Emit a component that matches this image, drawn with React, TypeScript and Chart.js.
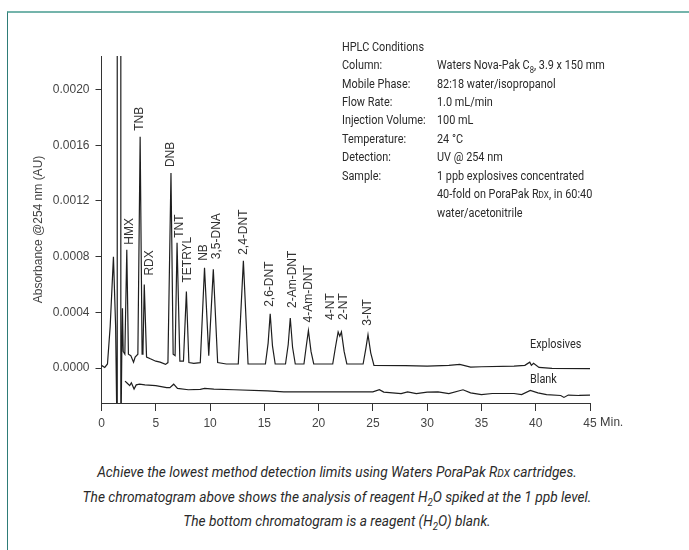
import React, { useEffect, useRef } from "react";
import { Chart, registerables } from "chart.js";

Chart.register(...registerables);

// ---------- data ----------
const xTickValues = [0, 5, 10, 15, 20, 25, 30, 35, 40, 45];
const yTickValues = [0, 0.0004, 0.0008, 0.0012, 0.0016, 0.002];

// [retention time (min), absorbance (AU)]
const explosivesTrace: [number, number][] = [
  [0, 0.00002], [0.3, 0.000005], [0.55, 0.00003], [0.8, 0.0003], [1.1, 0.0008],
  [1.3, 0.0003], [1.45, -0.0006], [1.45, 0.003], [1.78, 0.003], [1.78, -0.0006],
  [1.87, 0.00012], [1.93, 0.00043], [2.0, 0.00012], [2.15, 0.0001], [2.33, 0.00085],
  [2.48, 0.0001], [2.7, 0.00009], [2.95, 0.000043], [3.1, 0.00008], [3.35, 0.0001],
  [3.56, 0.00166], [3.74, 0.0001], [3.82, 0.00011], [3.94, 0.0006], [4.15, 0.00008],
  [4.5, 0.000067], [5.0, 0.00005], [5.4, 0.000043], [5.9, 0.000027], [6.12, 0.00004],
  [6.4, 0.0014], [6.6, 0.0001], [6.78, 0.00009], [6.96, 0.0009], [7.22, 0.00005],
  [7.55, 0.00005], [7.82, 0.00055], [8.05, 0.00004], [8.5, 0.000035], [9.1, 0.00004],
  [9.49, 0.00072], [9.88, 0.00009], [10.3, 0.00071], [10.7, 0.00004], [11.5, 0.00003],
  [12.6, 0.00003], [13.07, 0.00077], [13.5, 0.00003], [14.5, 0.00003], [15.1, 0.00003],
  [15.35, 0.00018], [15.54, 0.00039], [15.75, 0.00016], [16.0, 0.00003], [16.95, 0.00003],
  [17.2, 0.00017], [17.39, 0.00036], [17.6, 0.00015], [17.85, 0.00003], [18.65, 0.00003],
  [18.85, 0.00015], [19.06, 0.00027], [19.3, 0.00012], [19.55, 0.00003], [21.3, 0.00003],
  [21.55, 0.00015], [21.8, 0.00026], [21.95, 0.00023], [22.1, 0.00026], [22.35, 0.00012],
  [22.6, 0.00003], [24.1, 0.00003], [24.35, 0.00014], [24.55, 0.00024], [24.8, 0.00011],
  [25.1, 0.00002], [28, 0.000018], [30, 0.000015], [32, 0.00002], [33, 0.000027],
  [34, 0.000007], [35, 0.00001], [38, 0.000015], [39, 0.00002], [39.45, 0.000043],
  [39.6, 0.00002], [39.8, 0.000035], [40.3, 0.000005], [41.5, -0.000002], [45, -0.000004],
];

const blankTrace: [number, number][] = [
  [2.17, -0.000093], [2.4, -0.00011], [2.6, -0.000125], [2.75, -0.000105], [3.0, -0.00015],
  [3.2, -0.00012], [3.5, -0.000115], [4.0, -0.00012], [5.0, -0.000125], [6.0, -0.00014],
  [6.3, -0.00014], [6.65, -0.000115], [7.0, -0.000145], [8.0, -0.000155], [9.1, -0.000152],
  [9.5, -0.000145], [10.35, -0.00015], [12.2, -0.000155], [15.3, -0.000163], [16.8, -0.00017],
  [18, -0.00017], [25, -0.00017], [25.6, -0.000155], [26, -0.000172], [27.6, -0.000182],
  [28.2, -0.00017], [29, -0.000182], [30, -0.000172], [31, -0.00017], [32, -0.000182],
  [33.3, -0.000155], [34, -0.000177], [35, -0.00019], [36, -0.000182], [38, -0.000182],
  [38.7, -0.00019], [39.5, -0.00016], [40.2, -0.000177], [41, -0.00019], [42.3, -0.000196],
  [42.6, -0.00021], [43, -0.000193], [44, -0.000196], [45, -0.000194],
];

const peakNames = ["HMX", "TNB", "RDX", "DNB", "TNT", "TETRYL", "NB", "3,5-DNA", "2,4-DNT", "2,6-DNT", "2-Am-DNT", "4-Am-DNT", "4-NT", "2-NT", "3-NT"];
const peakTimes = [2.33, 3.56, 3.94, 6.4, 6.96, 7.82, 9.49, 10.3, 13.07, 15.54, 17.39, 19.06, 21.8, 22.1, 24.55];
const peakHeights = [0.00085, 0.00166, 0.0006, 0.0014, 0.0009, 0.00055, 0.00072, 0.00071, 0.00077, 0.00039, 0.00036, 0.00027, 0.00026, 0.00026, 0.00024];

// ---------- style ----------
const labelDx = [3, 0, 5, 0, 3, 1, -1, 3, 0, -1, 2, 0, -7, 2, 0];
const labelGap = [5, 6, 9, 6, 5, 9, 7, 10, 6, 7, 10, 8, 12, 12, 9];
const SANS = "'Liberation Sans', Arial, Helvetica, sans-serif";
const COND = "Roboto, 'Noto Sans', sans-serif";

const peakLabelPlugin = {
  id: "peakLabels",
  afterDatasetsDraw(chart: any) {
    const { ctx, scales } = chart;
    const x = scales.x;
    const y = scales.y;
    ctx.save();
    ctx.fillStyle = "#333";
    ctx.font = `12px ${SANS}`;
    ctx.textAlign = "left";
    ctx.textBaseline = "middle";
    peakNames.forEach((name, i) => {
      const px = x.getPixelForValue(peakTimes[i]) + labelDx[i];
      const py = y.getPixelForValue(peakHeights[i]) - labelGap[i];
      ctx.save();
      ctx.translate(px, py);
      ctx.rotate(-Math.PI / 2);
      ctx.fillText(name, 0, 0);
      ctx.restore();
    });
    ctx.restore();
  },
  afterDraw(chart: any) {
    const { ctx, scales, chartArea } = chart;
    ctx.save();
    ctx.fillStyle = "#444";
    ctx.font = `12px ${COND}`;
    ctx.textAlign = "left";
    ctx.textBaseline = "middle";
    ctx.fillText("Min.", scales.x.getPixelForValue(45) + 10, chartArea.bottom + 20);
    ctx.restore();
  },
};

function ChromChart() {
  const ref = useRef<HTMLCanvasElement | null>(null);
  useEffect(() => {
    if (!ref.current) return;
    const chart = new Chart(ref.current, {
      type: "line",
      data: {
        datasets: [
          {
            label: "Explosives",
            data: explosivesTrace.map(([x, y]) => ({ x, y })),
            borderColor: "#1e1e1e",
            borderWidth: 1.2,
            pointRadius: 0,
            tension: 0,
            fill: false,
          },
          {
            label: "Blank",
            data: blankTrace.map(([x, y]) => ({ x, y })),
            borderColor: "#1e1e1e",
            borderWidth: 1.2,
            pointRadius: 0,
            tension: 0,
            fill: false,
          },
        ],
      },
      options: {
        animation: false,
        responsive: false,
        maintainAspectRatio: false,
        parsing: false as any,
        layout: { padding: { left: 27, top: 56, right: 99, bottom: 0 } },
        plugins: { legend: { display: false }, tooltip: { enabled: false }, title: { display: false } },
        scales: {
          x: {
            type: "linear",
            min: 0,
            max: 45,
            afterBuildTicks: (axis: any) => {
              axis.ticks = xTickValues.map((v) => ({ value: v }));
            },
            afterFit: (s: any) => {
              s.height = 42;
            },
            ticks: {
              autoSkip: false,
              maxRotation: 0,
              padding: 5,
              color: "#444",
              font: { family: SANS, size: 12 },
              callback: (v: any) => String(v),
            },
            grid: { drawOnChartArea: false, drawTicks: true, tickLength: 8, color: "#333", lineWidth: 1 },
            border: { display: true, color: "#333", width: 1 },
          },
          y: {
            type: "linear",
            min: -0.00025,
            max: 0.00224,
            afterBuildTicks: (axis: any) => {
              axis.ticks = yTickValues.map((v) => ({ value: v }));
            },
            afterFit: (s: any) => {
              s.width = 74.5;
            },
            ticks: {
              padding: 6,
              color: "#444",
              font: { family: SANS, size: 12 },
              callback: (v: any) => Number(v).toFixed(4),
            },
            grid: { drawOnChartArea: false, drawTicks: true, tickLength: 6, color: "#333", lineWidth: 1 },
            border: { display: true, color: "#333", width: 1 },
            title: {
              display: true,
              text: "Absorbance @254 nm (AU)",
              color: "#444",
              font: { family: SANS, size: 12 },
              padding: { top: 4, bottom: 4 },
            },
          },
        },
      },
      plugins: [peakLabelPlugin],
    });
    return () => chart.destroy();
  }, []);
  return (
    <canvas
      ref={ref}
      width={689}
      height={445}
      style={{ position: "absolute", left: 0, top: 0, width: 689, height: 445 }}
    />
  );
}

const condText: React.CSSProperties = {
  position: "absolute",
  fontFamily: COND,
  fontSize: 12.5,
  lineHeight: "18.4px",
  color: "#2a2a2a",
  whiteSpace: "nowrap",
  transform: "scaleX(0.87)",
  transformOrigin: "0 0",
};

export default function App() {
  return (
    <div
      style={{
        position: "absolute",
        left: 0,
        top: 0,
        width: 689,
        height: 550,
        overflow: "hidden",
        background: "#fff",
      }}
    >
      <div
        style={{
          position: "absolute",
          left: 7,
          top: 11,
          width: 690,
          height: 560,
          borderTop: "2px solid #74b4ab",
          borderLeft: "1px solid #2e7c77",
        }}
      />
      <ChromChart />
      <div style={{ ...condText, left: 342, top: 37.8 }}>
        <div>HPLC Conditions</div>
        <div>Column:</div>
        <div>Mobile Phase:</div>
        <div>Flow Rate:</div>
        <div>Injection Volume:</div>
        <div>Temperature:</div>
        <div>Detection:</div>
        <div>Sample:</div>
      </div>
      <div style={{ ...condText, left: 437, top: 37.8 + 18.4 }}>
        <div>
          Waters Nova-Pak C<sub style={{ fontSize: "0.7em", lineHeight: 0 }}>8</sub>, 3.9 x 150 mm
        </div>
        <div>82:18 water/isopropanol</div>
        <div>1.0 mL/min</div>
        <div>100 mL</div>
        <div>24 °C</div>
        <div>UV @ 254 nm</div>
        <div>1 ppb explosives concentrated</div>
        <div>
          40-fold on PoraPak R<span style={{ fontSize: "0.75em" }}>DX</span>, in 60:40
        </div>
        <div>water/acetonitrile</div>
      </div>
      <div style={{ ...condText, left: 530, top: 335 }}>Explosives</div>
      <div style={{ ...condText, left: 530, top: 370 }}>Blank</div>
      <div
        style={{
          position: "absolute",
          left: 0,
          top: 459.7,
          width: 674,
          textAlign: "center",
          fontFamily: COND,
          fontStyle: "italic",
          fontWeight: 400,
          fontSize: 15.5,
          lineHeight: "24.2px",
          color: "#2a2a2a",
          whiteSpace: "nowrap",
          transform: "scaleX(0.885)",
          transformOrigin: "50% 0",
        }}
      >
        <div>
          Achieve the lowest method detection limits using Waters PoraPak R
          <span style={{ fontSize: "0.75em" }}>DX</span> cartridges.
        </div>
        <div>
          The chromatogram above shows the analysis of reagent H
          <sub style={{ fontSize: "0.7em", lineHeight: 0 }}>2</sub>O spiked at the 1 ppb level.
        </div>
        <div>
          The bottom chromatogram is a reagent (H<sub style={{ fontSize: "0.7em", lineHeight: 0 }}>2</sub>O) blank.
        </div>
      </div>
    </div>
  );
}
